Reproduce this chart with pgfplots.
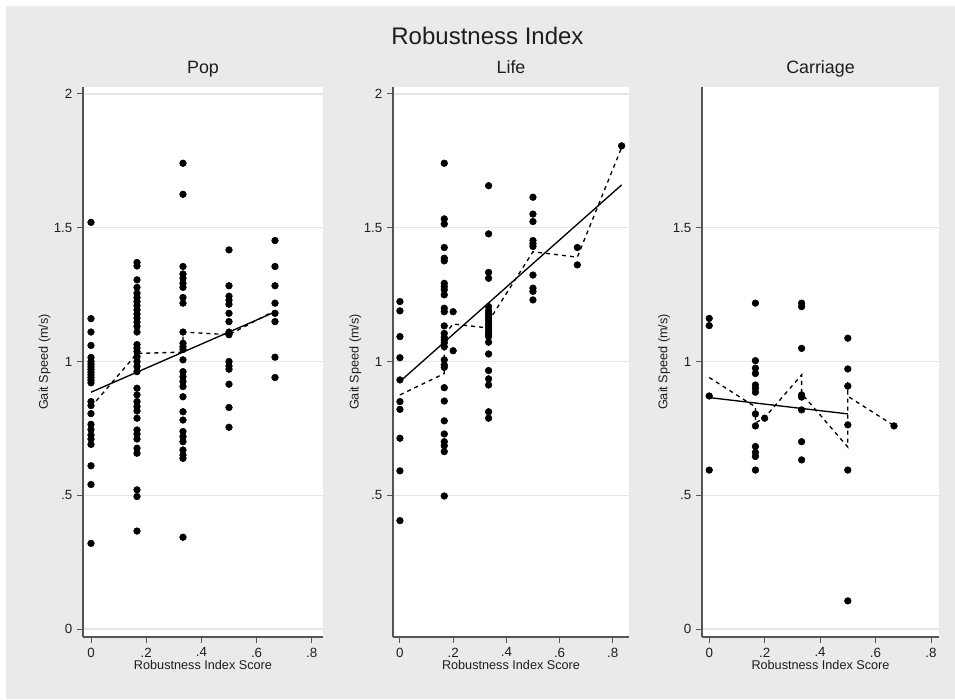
\documentclass[border=0pt]{standalone}
\usepackage{fontspec}
\setmainfont{Liberation Sans}
\usepackage{pgfplots}
\pgfplotsset{compat=1.18}
\definecolor{bgray}{RGB}{234,234,234}
\definecolor{gridc}{RGB}{230,230,230}
\definecolor{axln}{RGB}{85,85,85}
\definecolor{txt}{RGB}{30,30,30}

\pgfplotsset{
  panel/.style={
    scale only axis, height=412.5pt, anchor=south west,
    axis x line*=bottom, axis y line*=left,
    axis line style={axln, line width=1.1pt, -},
    axis background/.style={fill=white},
    ymajorgrids, grid style={gridc, line width=0.9pt},
    ymin=-0.03, ymax=2.026,
    xtick={0,0.2,0.4,0.6,0.8}, xticklabels={0,.2,.4,.6,.8},
    tick align=outside, major tick length=4.5pt,
    tick style={axln, line width=0.7pt},
    tick label style={font=\fontsize{10}{12}\selectfont, text=txt},
    /pgf/number format/assume math mode=true,
    xlabel={Robustness Index Score}, ylabel={Gait Speed (m/s)},
    xlabel style={font=\fontsize{9.5}{11}\selectfont, text=txt,
      at={(axis description cs:0.5,0)}, anchor=center, yshift=-21pt},
    ylabel style={font=\fontsize{9.5}{11}\selectfont, text=txt,
      at={(axis description cs:-0.16,0.5)}, anchor=center, rotate=0},
    title style={font=\fontsize{13.4}{15}\selectfont, text=txt,
      at={(axis description cs:0.5,1)}, anchor=base, yshift=3.75pt},
  },
  pts/.style={only marks, mark=*, mark size=2.5pt, black},
  fit/.style={black, line width=1pt, no marks},
  smooth/.style={black, line width=1pt, no marks, dash pattern=on 3pt off 3pt},
}

\begin{document}
\begin{tikzpicture}
\fill[white] (0,0) rectangle (716.25pt,524.25pt);
\fill[bgray] (4.5pt,0) rectangle (716.25pt,519.75pt);
\node[font=\fontsize{18}{21}\selectfont, text=txt, anchor=base] at (365.6pt,490.5pt) {Robustness Index};

% Pop
\begin{axis}[panel, at={(62.25pt,46.5pt)}, width=180pt,
  xmin=-0.029, xmax=0.8406,
  ytick={0,0.5,1,1.5,2}, yticklabels={0,.5,1,1.5,2},
  title={Pop}]
\addplot[pts] coordinates {
 (0,1.52) (0,1.16) (0,1.11) (0,1.06) (0,1.015) (0,1.00) (0,0.99) (0,0.98)
 (0,0.97) (0,0.96) (0,0.95) (0,0.94) (0,0.93) (0,0.92) (0,0.85) (0,0.835)
 (0,0.805) (0,0.765) (0,0.745) (0,0.725) (0,0.71) (0,0.69) (0,0.61) (0,0.54) (0,0.32)
 (0.1667,1.37) (0.1667,1.357) (0.1667,1.305) (0.1667,1.277) (0.1667,1.255)
 (0.1667,1.239) (0.1667,1.224) (0.1667,1.209) (0.1667,1.193) (0.1667,1.177)
 (0.1667,1.162) (0.1667,1.147) (0.1667,1.131) (0.1667,1.110) (0.1667,1.063)
 (0.1667,1.050) (0.1667,1.037) (0.1667,1.018) (0.1667,1.000) (0.1667,0.981)
 (0.1667,0.962) (0.1667,0.900) (0.1667,0.875) (0.1667,0.850) (0.1667,0.831)
 (0.1667,0.815) (0.1667,0.788) (0.1667,0.744) (0.1667,0.729) (0.1667,0.710)
 (0.1667,0.676) (0.1667,0.657) (0.1667,0.520) (0.1667,0.495) (0.1667,0.366)
 (0.3333,1.741) (0.3333,1.625) (0.3333,1.355) (0.3333,1.327) (0.3333,1.311)
 (0.3333,1.292) (0.3333,1.277) (0.3333,1.239) (0.3333,1.218) (0.3333,1.110)
 (0.3333,1.068) (0.3333,1.055) (0.3333,1.045) (0.3333,1.006) (0.3333,0.962)
 (0.3333,0.943) (0.3333,0.925) (0.3333,0.906) (0.3333,0.868) (0.3333,0.812)
 (0.3333,0.781) (0.3333,0.738) (0.3333,0.719) (0.3333,0.700) (0.3333,0.669)
 (0.3333,0.650) (0.3333,0.638) (0.3333,0.343)
 (0.5,1.417) (0.5,1.283) (0.5,1.244) (0.5,1.229) (0.5,1.214) (0.5,1.180)
 (0.5,1.149) (0.5,1.110) (0.5,1.100) (0.5,1.000) (0.5,0.983) (0.5,0.971)
 (0.5,0.915) (0.5,0.828) (0.5,0.754)
 (0.6667,1.452) (0.6667,1.355) (0.6667,1.283) (0.6667,1.218) (0.6667,1.180)
 (0.6667,1.149) (0.6667,1.016) (0.6667,0.940)
};
\addplot[fit] coordinates {(0,0.885) (0.6667,1.185)};
\addplot[smooth] coordinates {(0,0.83) (0.1667,1.03) (0.3333,1.035) (0.3333,1.11) (0.5,1.10) (0.6667,1.19)};
\end{axis}

% Life
\begin{axis}[panel, at={(294.75pt,46.5pt)}, width=177pt,
  xmin=-0.026, xmax=0.861,
  ytick={0.5,1,1.5,2}, yticklabels={.5,1,1.5,2},
  title={Life}]
\addplot[pts] coordinates {
 (0,1.224) (0,1.189) (0,1.093) (0,1.014) (0,0.931) (0,0.850) (0,0.821)
 (0,0.713) (0,0.591) (0,0.405)
 (0.1667,1.741) (0.1667,1.533) (0.1667,1.514) (0.1667,1.426) (0.1667,1.386)
 (0.1667,1.376) (0.1667,1.292) (0.1667,1.280) (0.1667,1.268) (0.1667,1.249)
 (0.1667,1.199) (0.1667,1.186) (0.1667,1.133) (0.1667,1.105) (0.1667,1.090)
 (0.1667,1.080) (0.1667,1.070) (0.1667,1.055) (0.1667,1.006) (0.1667,0.987)
 (0.1667,0.978) (0.1667,0.902) (0.1667,0.852) (0.1667,0.778) (0.1667,0.729)
 (0.1667,0.700) (0.1667,0.685) (0.1667,0.663) (0.1667,0.497)
 (0.2,1.186) (0.2,1.040)
 (0.3333,1.657) (0.3333,1.477) (0.3333,1.333) (0.3333,1.311) (0.3333,1.205)
 (0.3333,1.190) (0.3333,1.180) (0.3333,1.170) (0.3333,1.160) (0.3333,1.150)
 (0.3333,1.140) (0.3333,1.130) (0.3333,1.120) (0.3333,1.110) (0.3333,1.100)
 (0.3333,1.093) (0.3333,1.072) (0.3333,1.028) (0.3333,0.966) (0.3333,0.935)
 (0.3333,0.912) (0.3333,0.812) (0.3333,0.788)
 (0.5,1.614) (0.5,1.551) (0.5,1.523) (0.5,1.452) (0.5,1.440) (0.5,1.430)
 (0.5,1.323) (0.5,1.274) (0.5,1.262) (0.5,1.230)
 (0.6667,1.426) (0.6667,1.361)
 (0.8333,1.806)
};
\addplot[fit] coordinates {(0,0.925) (0.8333,1.66)};
\addplot[smooth] coordinates {(0,0.875) (0.1667,0.955) (0.1667,1.10) (0.2,1.14) (0.3333,1.125) (0.3333,1.15) (0.5,1.41) (0.6667,1.39) (0.8333,1.80)};
\end{axis}

% Carriage
\begin{axis}[panel, at={(526.5pt,46.5pt)}, width=177.75pt,
  xmin=-0.026, xmax=0.829,
  ytick={0,0.5,1,1.5}, yticklabels={0,.5,1,1.5},
  title={Carriage}]
\addplot[pts] coordinates {
 (0,1.161) (0,1.134) (0,0.871) (0,0.594)
 (0.1667,1.218) (0.1667,1.003) (0.1667,0.975) (0.1667,0.955) (0.1667,0.912)
 (0.1667,0.900) (0.1667,0.885) (0.1667,0.804) (0.1667,0.759) (0.1667,0.682)
 (0.1667,0.660) (0.1667,0.645) (0.1667,0.594)
 (0.2,0.788)
 (0.3333,1.218) (0.3333,1.205) (0.3333,1.049) (0.3333,0.875) (0.3333,0.867)
 (0.3333,0.819) (0.3333,0.700) (0.3333,0.632)
 (0.5,1.087) (0.5,0.972) (0.5,0.908) (0.5,0.763) (0.5,0.594) (0.5,0.105)
 (0.6667,0.759)
};
\addplot[fit] coordinates {(0,0.865) (0.5,0.804)};
\addplot[smooth] coordinates {(0,0.94) (0.1667,0.83) (0.1667,0.77) (0.2,0.79) (0.3333,0.95) (0.3333,0.88) (0.5,0.68) (0.5,0.93) (0.5,0.87) (0.6667,0.76)};
\end{axis}
\end{tikzpicture}
\end{document}
